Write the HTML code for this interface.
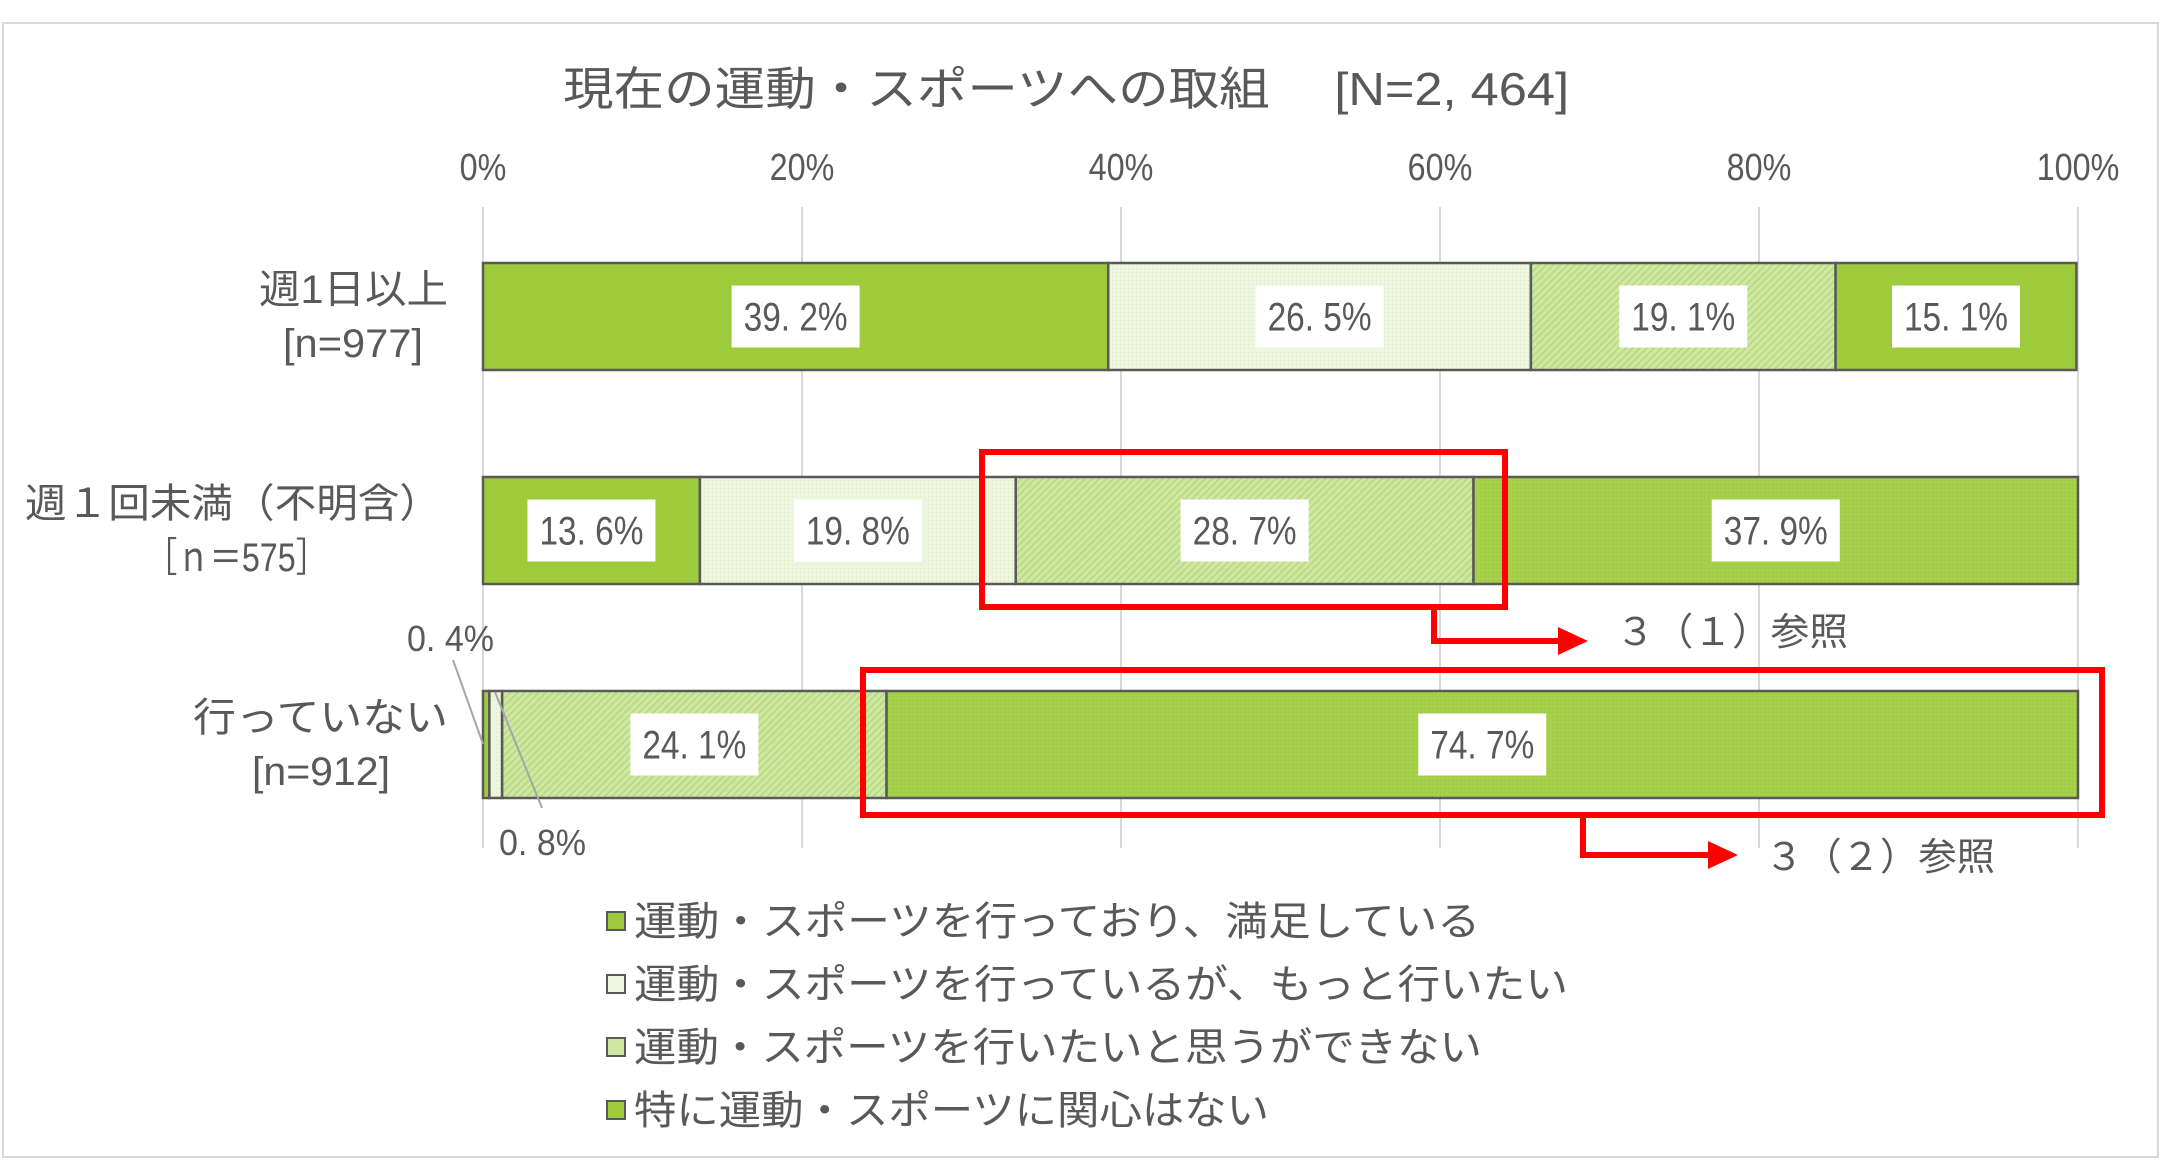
<!DOCTYPE html>
<html><head><meta charset="utf-8"><style>
html,body{margin:0;padding:0;background:#fff;}
svg{display:block;}
text{font-family:"Liberation Sans","Noto Sans CJK JP",sans-serif;fill:#595959;}
</style></head><body>
<svg id="chart" width="2162" height="1161" viewBox="0 0 2162 1161" xmlns="http://www.w3.org/2000/svg">
<defs>
<pattern id="dots" width="4" height="4" patternUnits="userSpaceOnUse"><rect width="4" height="4" fill="#eef6e2"/><rect width="1" height="1" fill="#d6eab5"/></pattern>
<pattern id="hatch" width="5" height="5" patternUnits="userSpaceOnUse" patternTransform="rotate(45)"><rect width="5" height="5" fill="#cfe7a3"/><rect width="1.5" height="5" fill="#b5d97a"/></pattern>
<pattern id="dots2" width="4" height="4" patternUnits="userSpaceOnUse"><rect width="4" height="4" fill="#a6d04a"/><rect width="1" height="1" fill="#93c33a"/></pattern>
</defs>
<rect x="3" y="23" width="2155" height="1134" fill="#fff" stroke="#d9d9d9" stroke-width="2"/>
<text x="563" y="105" font-size="46" textLength="1006" lengthAdjust="spacingAndGlyphs">現在の運動・スポーツへの取組　 [N=2, 464]</text>
<g id="grid"></g>
<g id="bars"></g>
<g id="labels"></g>
<line x1="453" y1="660" x2="483" y2="744" stroke="#a6a6a6" stroke-width="2"/>
<line x1="495" y1="692" x2="542" y2="808" stroke="#a6a6a6" stroke-width="2"/>
<text x="407" y="651" font-size="36" textLength="87" lengthAdjust="spacingAndGlyphs">0. 4%</text>
<text x="499" y="855" font-size="36" textLength="87" lengthAdjust="spacingAndGlyphs">0. 8%</text>
<g stroke="#ff0000" fill="none" stroke-width="6">
<rect x="982" y="452" width="523" height="155"/>
<polyline points="1434,607 1434,641 1560,641"/>
</g>
<polygon points="1558,627 1588,641 1558,655" fill="#ff0000"/>
<text x="1616" y="645" font-size="38" textLength="232" lengthAdjust="spacingAndGlyphs">３（１）参照</text>
<g stroke="#ff0000" fill="none" stroke-width="6">
<rect x="863" y="670" width="1239" height="145"/>
<polyline points="1583,815 1583,855 1710,855"/>
</g>
<polygon points="1708,841 1738,855 1708,869" fill="#ff0000"/>
<text x="1765" y="870" font-size="38" textLength="230" lengthAdjust="spacingAndGlyphs">３（２）参照</text>
<g id="legend"></g>
</svg>
<script>
const categories = ["週1日以上", "週１回未満（不明含）", "行っていない"];
const sublabels = ["[n=977]", "［ｎ＝575］", "[n=912]"];
const seriesNames = ["運動・スポーツを行っており、満足している","運動・スポーツを行っているが、もっと行いたい","運動・スポーツを行いたいと思うができない","特に運動・スポーツに関心はない"];
const s1 = [39.2, 13.6, 0.4];
const s2 = [26.5, 19.8, 0.8];
const s3 = [19.1, 28.7, 24.1];
const s4 = [15.1, 37.9, 74.7];
const ticks = [0, 20, 40, 60, 80, 100];
const tickLabels = ["0%", "20%", "40%", "60%", "80%", "100%"];

const NS = "http://www.w3.org/2000/svg";
const X0 = 483, X1 = 2078;
const xs = v => X0 + (X1 - X0) * v / 100;
const rowY = i => 263 + i * 214;
const BH = 107;
const fills = [["#9dcb3b"], ["url(#dots)"], ["url(#hatch)"], ["#9dcb3b","url(#dots2)","url(#dots2)"]];
const series = [s1, s2, s3, s4];
// text layout (positions, not data)
const catX = [259, 25, 193], catW = [189, 416, 255];
const subX = [283, 145, 252], subW = [140, 183, 138];
const legW = [846, 934, 848, 635];
function mk(tag, attrs, parent){const e=document.createElementNS(NS,tag);for(const k in attrs)e.setAttribute(k,attrs[k]);parent.appendChild(e);return e;}
const grid=document.getElementById('grid'), bars=document.getElementById('bars'), labels=document.getElementById('labels'), legend=document.getElementById('legend');
ticks.forEach((t,i)=>{
  const l=mk('line',{x1:xs(t),x2:xs(t),y1:207,y2:848,stroke:'#d9d9d9','stroke-width':2},grid);
  
  
  const tx=mk('text',{x:xs(t),y:180,'font-size':38,'text-anchor':'middle',transform:`translate(${xs(t)},0) scale(0.85,1) translate(${-xs(t)},0)`},grid);
  tx.textContent=tickLabels[i];
  
  
});
categories.forEach((c,i)=>{
  const y=rowY(i);
  const tx=mk('text',{x:catX[i],y:y+40,'font-size':40,textLength:catW[i],lengthAdjust:'spacingAndGlyphs'},labels);
  tx.textContent=c;
  
  
  const t2=mk('text',{x:subX[i],y:y+94,'font-size':40,textLength:subW[i],lengthAdjust:'spacingAndGlyphs'},labels);
  t2.textContent=sublabels[i];
  
  
  let acc=0;
  series.forEach((s,k)=>{
    const v=s[i];
    const xa=xs(acc), xb=xs(acc+v);
    const f=fills[k][Math.min(i,fills[k].length-1)];
    const r=mk('rect',{x:xa,y:y,width:xb-xa,height:BH,fill:f,stroke:'#595959','stroke-width':2.5},bars);
    
    
    if(v>=5){
      const cx=(xa+xb)/2, cy=y+BH/2;
      const w=128, h=62;
      const b=mk('rect',{x:cx-w/2,y:cy-h/2,width:w,height:h,fill:'#fff'},labels);
      
      
      const vt=mk('text',{x:cx-52,y:cy+14,'font-size':40,textLength:104,lengthAdjust:'spacingAndGlyphs'},labels);
      vt.textContent=v.toFixed(1).replace('.', '. ')+'%';
      
      
    }
    acc+=v;
  });
});
const lf=["#9dcb3b","#eef6e2","#cfe7a3","#9dcb3b"];
seriesNames.forEach((n,i)=>{
  const y=921+i*63;
  const r=mk('rect',{x:607,y:y-9,width:18,height:18,fill:lf[i],stroke:'#595959','stroke-width':2},legend);
  
  
  const t=mk('text',{x:634,y:y+14,'font-size':40,textLength:legW[i],lengthAdjust:'spacingAndGlyphs'},legend);
  t.textContent=n;
  
  
});
</script>
</body></html>
